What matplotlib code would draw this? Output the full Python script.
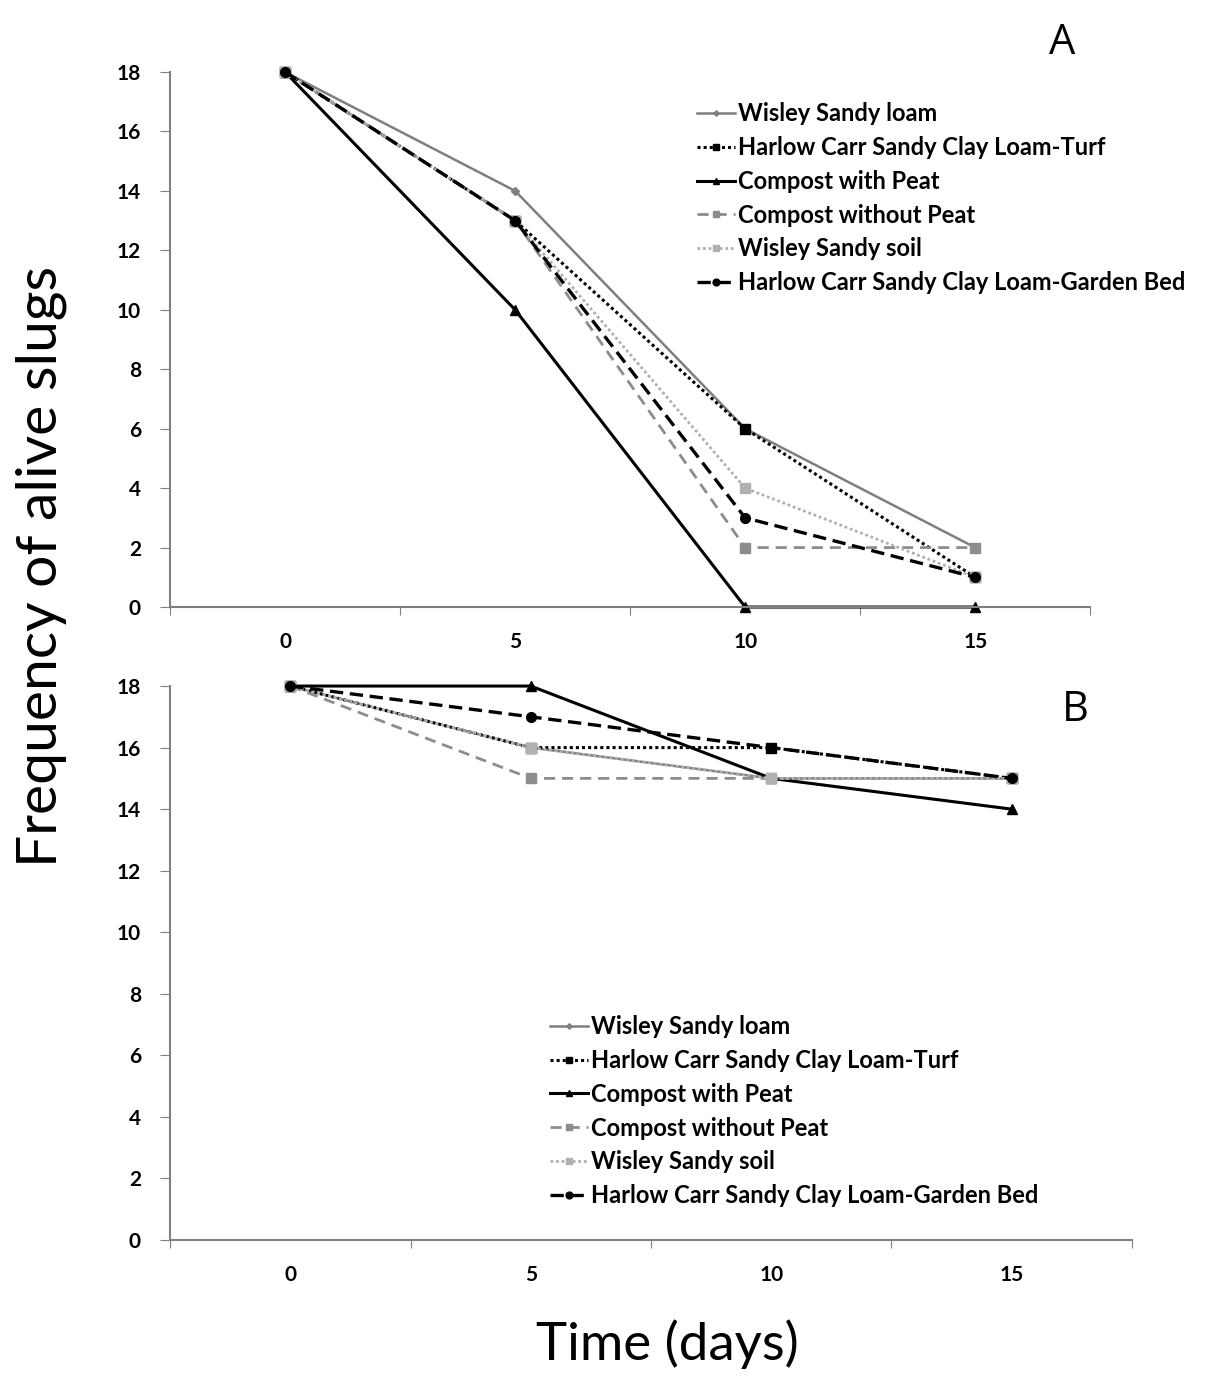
import numpy as np
import matplotlib
matplotlib.use("Agg")
import matplotlib.pyplot as plt

# sampling days (category axis)
days = ["0", "5", "10", "15"]

labels = ["Wisley Sandy loam",
          "Harlow Carr Sandy Clay Loam-Turf",
          "Compost with Peat",
          "Compost without Peat",
          "Wisley Sandy soil",
          "Harlow Carr Sandy Clay Loam-Garden Bed"]

# panel A
a_wisley_loam = [18, 14, 6, 2]
a_turf = [18, 13, 6, 1]
a_peat = [18, 10, 0, 0]
a_no_peat = [18, 13, 2, 2]
a_wisley_soil = [18, 13, 4, 1]
a_garden = [18, 13, 3, 1]

# panel B
b_wisley_loam = [18, 16, 15, 15]
b_turf = [18, 16, 16, 15]
b_peat = [18, 18, 15, 14]
b_no_peat = [18, 15, 15, 15]
b_wisley_soil = [18, 16, 15, 15]
b_garden = [18, 17, 16, 15]

styles = [
    dict(color="#7f7f7f", ls="-", marker="D", ms=4, lw=1.8),
    dict(color="black", ls=(0, (1, 1)), marker="s", ms=7, lw=2.2),
    dict(color="black", ls="-", marker="^", ms=7, lw=2.2),
    dict(color="#8c8c8c", ls=(0, (4, 2.5)), marker="s", ms=7, lw=2.0),
    dict(color="#b0b0b0", ls=(0, (1, 1)), marker="s", ms=7, lw=2.0),
    dict(color="black", ls=(0, (4, 2)), marker="o", ms=7, lw=2.4),
]

tick_font = {"family": "Lato", "weight": "bold", "size": 15}

fig = plt.figure(figsize=(12.26, 13.79), dpi=100)
axA = fig.add_axes([0.1387, 0.5598, 0.7506, 0.388])
axB = fig.add_axes([0.1387, 0.1008, 0.7846, 0.4017])

x = np.arange(len(days))
panels = [
    (axA, [a_wisley_loam, a_turf, a_peat, a_no_peat, a_wisley_soil, a_garden]),
    (axB, [b_wisley_loam, b_turf, b_peat, b_no_peat, b_wisley_soil, b_garden]),
]

for ax, series in panels:
    for vals, lab, st in zip(series, labels, styles):
        ax.plot(x, vals, label=lab, color=st["color"], linestyle=st["ls"],
                marker=st["marker"], markersize=st["ms"], linewidth=st["lw"],
                markerfacecolor=st["color"], markeredgecolor=st["color"],
                clip_on=False)
    ax.set_xlim(-0.5, 3.5)
    ax.set_ylim(0, 18)
    ax.set_yticks(range(0, 19, 2))
    ax.set_xticks(np.arange(-0.5, 3.6, 1.0))
    ax.set_xticklabels([])
    ax.set_xticks(x, minor=True)
    ax.set_xticklabels(days, minor=True, fontdict=tick_font)
    ax.tick_params(axis="x", which="minor", length=0, pad=18)
    ax.tick_params(axis="x", which="major", length=6, direction="out", color="#808080")
    ax.tick_params(axis="y", length=7, direction="out", color="#808080", pad=14)
    for t in ax.get_yticklabels():
        t.set_fontfamily("Lato")
        t.set_fontweight("bold")
        t.set_fontsize(15)
    for s in ["top", "right"]:
        ax.spines[s].set_visible(False)
    for s in ["left", "bottom"]:
        ax.spines[s].set_color("#808080")
        ax.spines[s].set_linewidth(1.5)

leg_kw = dict(frameon=False, handlelength=1.6, handletextpad=0.15, labelspacing=0.46,
              prop={"family": "Lato", "weight": "bold", "size": 17}, markerscale=0.7,
              borderaxespad=0, borderpad=0)
axA.legend(loc="upper left", bbox_to_anchor=(0.5685, 0.926), bbox_transform=fig.transFigure, **leg_kw)
axB.legend(loc="upper left", bbox_to_anchor=(0.4486, 0.264), bbox_transform=fig.transFigure, **leg_kw)

fig.text(0.866, 0.969, "A", fontsize=30, family="Open Sans", ha="center", va="center")
fig.text(0.877, 0.485, "B", fontsize=30, family="Open Sans", ha="center", va="center")
fig.text(0.034, 0.589, "Frequency of alive slugs", rotation=90, fontsize=41,
         family="Lato", ha="center", va="center")
fig.text(0.544, 0.025, "Time (days)", fontsize=38, family="Lato", ha="center", va="center")

fig.savefig("out.png", dpi=100, facecolor="white")
